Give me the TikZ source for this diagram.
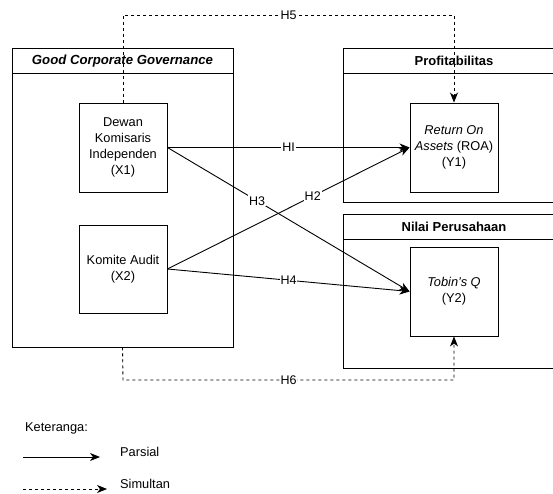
\documentclass[tikz,border=0pt]{standalone}
\usepackage{fontspec}
\setmainfont{Liberation Sans}
\usetikzlibrary{arrows.meta}
\begin{document}
\begin{tikzpicture}[x=1pt,y=-1pt,
  every node/.style={font=\fontsize{12.8}{16}\selectfont},
  box/.style={draw,line width=0.9pt,minimum width=88pt,minimum height=89pt,align=center,inner sep=0pt},
  cont/.style={draw,line width=0.9pt,inner sep=0pt},
  ttl/.style={font=\fontsize{13}{15}\selectfont\bfseries,inner sep=0pt},
  lbl/.style={fill=white,inner sep=1pt,font=\fontsize{12.5}{14}\selectfont},
  conn/.style={line width=0.9pt,-{Stealth[length=10pt,width=8pt,inset=3pt]}},
  dconn/.style={conn,dash pattern=on 3pt off 3pt},
  txt/.style={anchor=west,inner sep=0pt}]
\useasboundingbox (0,0) rectangle (553,494);
\clip (0,0) rectangle (553,494);
% containers
\node[cont,minimum width=221pt,minimum height=299pt] (gcg) at (122.5,197.5) {};
\draw[line width=0.9pt] (12,73) -- (233,73);
\node[ttl,font=\fontsize{13.2}{15}\selectfont\bfseries\itshape] (gcgt) at (122.5,61) {Good Corporate Governance};
\node[cont,minimum width=222pt,minimum height=154pt] (prof) at (454,125) {};
\draw[line width=0.9pt] (343,73) -- (565,73);
\node[ttl] (proft) at (454,61) {Profitabilitas};
\node[cont,minimum width=222pt,minimum height=154pt] (nilai) at (454,291) {};
\draw[line width=0.9pt] (343,239) -- (565,239);
\node[ttl] (nilait) at (454,227) {Nilai Perusahaan};
% inner boxes
\node[box] (x1) at (123,147.5) {Dewan\\Komisaris\\Independen\\(X1)};
\node[box,minimum height=88pt] (x2) at (123,269) {Komite Audit\\(X2)};
\node[box] (y1) at (454,147.5) {\textit{Return On}\\\textit{Assets} (ROA)\\(Y1)};
\node[box] (y2) at (454,291.5) {\textit{Tobin's Q}\\(Y2)};
% partial connectors
\draw[conn] (x1.east) -- node[lbl,pos=0.5]{HI} (y1.west);
\draw[conn] (x2.east) -- node[lbl,pos=0.6]{H2} (y1.west);
\draw[conn] (x1.east) -- node[lbl,pos=0.37]{H3} (y2.west);
\draw[conn] (x2.east) -- node[lbl,pos=0.5]{H4} (y2.west);
% simultaneous connectors
\coordinate (c5a) at (123,15);
\coordinate (c5b) at (454,15);
\draw[dconn] (x1.north) -- (c5a) -- node[lbl]{H5} (c5b) -- (y1.north);
\coordinate (c6a) at (123,380);
\coordinate (c6b) at (454,380);
\draw[dconn] (gcg.south) -- (c6a) -- node[lbl]{H6} (c6b) -- (y2.south);
% legend
\node[txt] (ket) at (25,428) {Keteranga:};
\coordinate (la) at (23,457);
\coordinate (lb) at (100,457);
\draw[conn] (la) -- (lb);
\node[txt] (par) at (120,452) {Parsial};
\coordinate (lc) at (23,489);
\coordinate (ld) at (107,489);
\draw[dconn] (lc) -- (ld);
\node[txt] (sim) at (120,484) {Simultan};
\end{tikzpicture}
\end{document}
